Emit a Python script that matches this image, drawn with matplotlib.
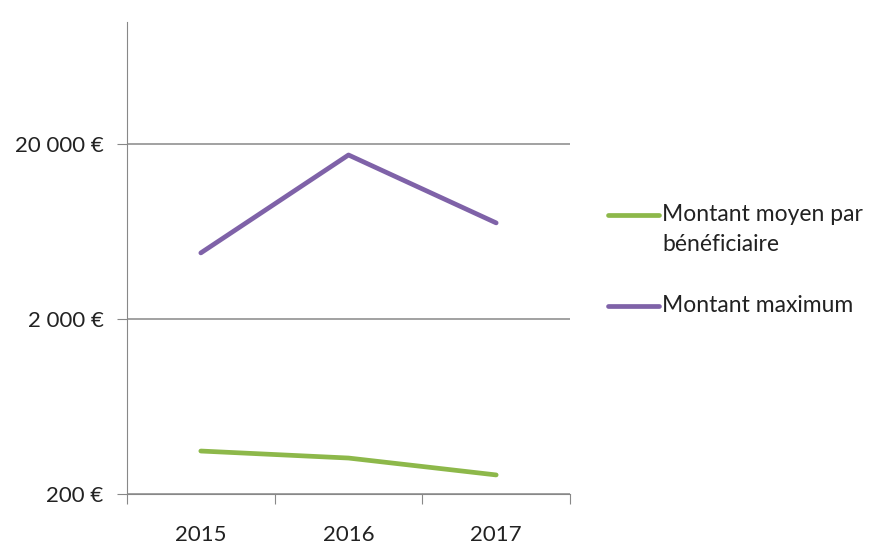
import matplotlib.pyplot as plt
from matplotlib.lines import Line2D
from matplotlib.ticker import FixedLocator, FixedFormatter, NullLocator

plt.rcParams['font.family'] = ['Lato', 'DejaVu Sans']

years = ['2015', '2016', '2017']
montant_moyen = [352, 321, 257]
montant_max = [4770, 17300, 7080]
y_ticks = [200, 2000, 20000]
y_labels = ['200 €', '2 000 €', '20 000 €']
series_names = ['Montant moyen par\nbénéficiaire', 'Montant maximum']
colors = ['#8DB84A', '#7F62A8']

W, H = 873, 545
fig = plt.figure(figsize=(W / 100, H / 100), dpi=100)
ax = fig.add_axes([127 / W, 1 - 494 / H, 443 / W, 472 / H])

x = range(len(years))
for vals, name, c in zip([montant_moyen, montant_max], series_names, colors):
    ax.plot(x, vals, color=c, lw=3.4, label=name, solid_capstyle='round')

ax.set_yscale('log')
ax.set_ylim(200, 99500)
ax.set_xlim(-0.5, 2.5)

ax.yaxis.set_major_locator(FixedLocator(y_ticks))
ax.yaxis.set_major_formatter(FixedFormatter(y_labels))
ax.yaxis.set_minor_locator(NullLocator())

# category ticks between years, labels centred
ax.set_xticks([-0.5, 0.5, 1.5, 2.5])
ax.set_xticklabels([])
ax.set_xticks(list(x), minor=True)
ax.set_xticklabels(years, minor=True)
ax.tick_params(axis='x', which='major', length=7, color='#888888', direction='out')
ax.tick_params(axis='x', which='minor', length=0, pad=22, labelsize=16, labelcolor='#222222')
ax.tick_params(axis='y', length=7, color='#888888', labelsize=16, labelcolor='#222222', pad=10)

ax.grid(axis='y', color='#888888', lw=1.1)
ax.set_axisbelow(True)
for s in ['top', 'right']:
    ax.spines[s].set_visible(False)
ax.spines['left'].set_color('#888888')
ax.spines['bottom'].set_color('#888888')

# legend drawn by hand: handle sits on the first line of each label
leg_y = [215, 306]
for yy, name, c in zip(leg_y, series_names, colors):
    fig.add_artist(Line2D([608 / W, 659 / W], [1 - yy / H] * 2, color=c, lw=3.4,
                          solid_capstyle='round', transform=fig.transFigure))
    fig.text(662 / W, 1 - (yy - 11) / H, name, fontsize=16.5, color='#222222',
             va='top', ha='left', linespacing=1.55)

fig.savefig('out.png', dpi=100)
